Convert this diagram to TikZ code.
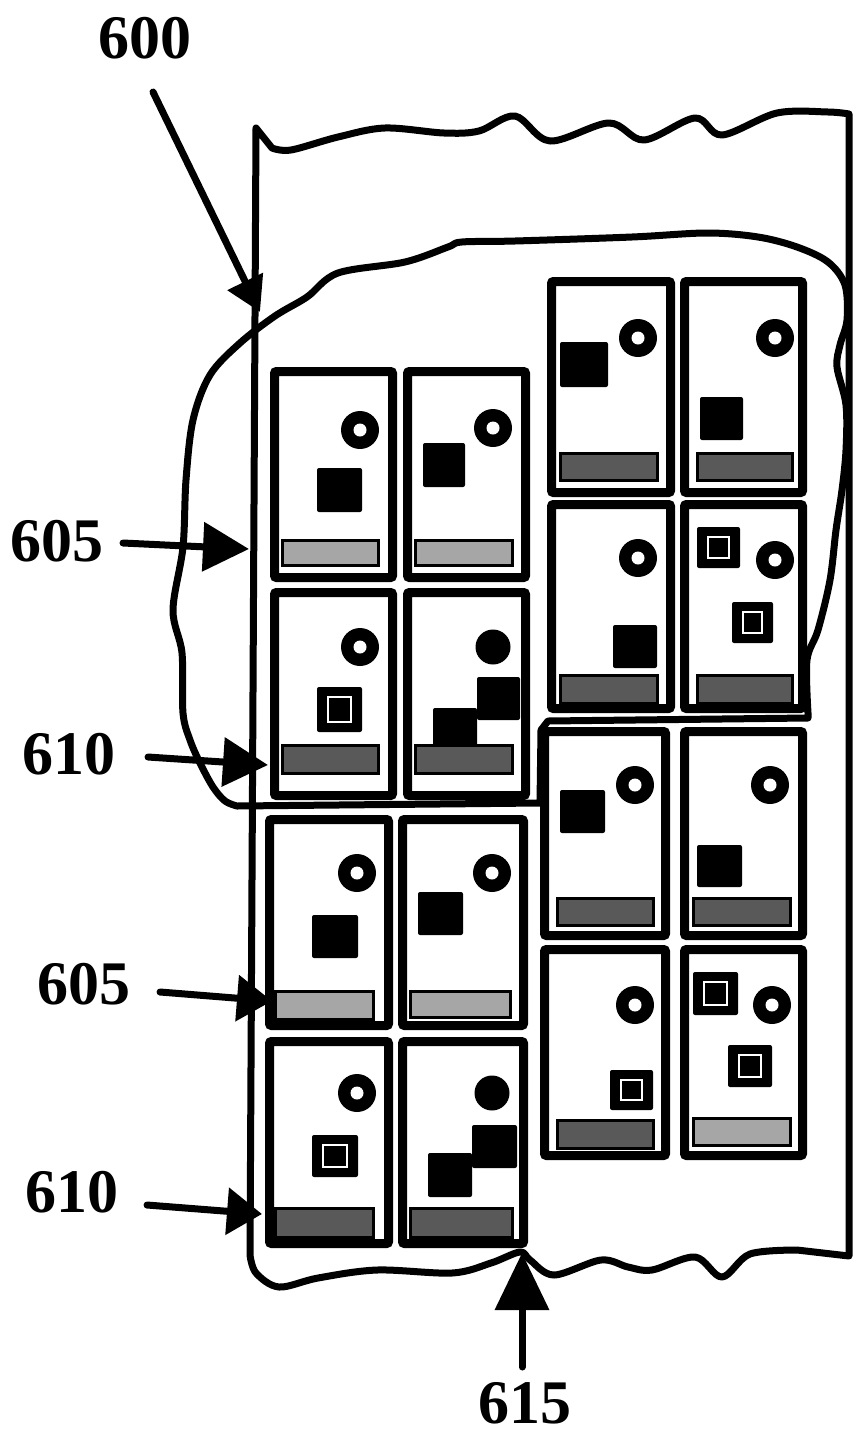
\documentclass[tikz,border=0pt]{standalone}
\usepackage{fontspec}
\setmainfont{Liberation Serif}
\usetikzlibrary{arrows.meta}
\newcommand\mkcard[5]{%
  \pgfmathsetmacro\cardWd{#4-#2-9}\pgfmathsetmacro\cardHt{#5-#3-9}%
  \node[cardnode, minimum width=\cardWd pt, minimum height=\cardHt pt] (#1) at ({(#2+#4)/2},{(#3+#5)/2}) {};}
\newcommand\ringat[2]{\fill (#1,#2) circle[radius=19]; \fill[white] (#1,#2) circle[radius=6.5];}
\newcommand\dotat[2]{\fill (#1,#2) circle[radius=17.5];}
\newcommand\sqfill[4]{\fill[rounded corners=2pt] (#1,#2) rectangle (#3,#4);}
\newcommand\sqopen[4]{\fill[rounded corners=2pt] (#1,#2) rectangle (#3,#4);
  \draw[white, line width=2.5pt] ({#1+11},{#2+10}) rectangle ({#3-11},{#4-10});}
\begin{document}
\begin{tikzpicture}[x=1pt,y=-1pt,
  panel/.style={line width=7pt, line join=round, line cap=round},
  blob/.style={line width=7pt, line join=round, line cap=round},
  cardnode/.style={draw, line width=9pt, rounded corners=2pt, inner sep=0pt, outer sep=0pt, fill=white},
  bardark/.style={draw, line width=3pt, fill=black!65},
  barlight/.style={draw, line width=3pt, fill=black!35},
  lbl/.style={font=\bfseries\fontsize{62}{62}\selectfont, inner sep=0pt},
  arr/.style={line width=7pt, line cap=round}]
\fill[white] (0,0) rectangle (855,1435);
\useasboundingbox (0,0) rectangle (855,1435);

% outer panel 600
\draw[panel] (250,1255) -- (256,128) -- (272,148)
  -- plot[smooth, tension=0.55] coordinates {(272,148) (291,150) (338,137) (385,128) (444,133) (479,131) (515,116) (550,141) (609,123) (644,140) (695,118) (722,135) (777,113) (828,112) (849,114)}
  -- (849,1256) -- (797,1250)
  -- plot[smooth, tension=0.55] coordinates {(797,1250) (750,1254) (722,1277) (695,1257) (652,1270) (628,1267) (601,1260) (554,1275) (530,1260) (520,1252) (491,1263) (452,1273) (377,1270) (318,1278) (279,1287) (256,1273) (250,1255)};

% selection outline
\draw[blob] (808,713) -- (808,718) -- (548,721) -- (541,730) -- (540,803) -- (237,806)
  -- plot[smooth, tension=0.55] coordinates {(237,806) (225,801) (213,787) (200,763) (190,740) (183,713) (182,653) (173,610) (183,547) (186,480) (193,420) (210,375) (240,343) (275,316) (307,297) (338,273) (405,262) (448,247) (462,242) (515,241) (632,237) (707,233) (758,237) (797,247) (828,262) (845,285) (847,320) (840,345) (837,367) (846,405) (846,450) (842,490) (836,530) (830,580) (818,630) (807,660) (808,713)} -- cycle;

% cards
\mkcard{A}{270}{367}{397}{582}
\mkcard{B}{403}{367}{530}{582}
\mkcard{C}{270}{588}{397}{800}
\mkcard{D}{403}{588}{530}{800}
\mkcard{E}{265}{815}{393}{1030}
\mkcard{F}{398}{815}{528}{1030}
\mkcard{G}{265}{1037}{393}{1248}
\mkcard{H}{398}{1037}{528}{1248}
\mkcard{I}{547}{277}{675}{497}
\mkcard{J}{680}{277}{807}{497}
\mkcard{K}{547}{500}{675}{713}
\mkcard{L}{680}{500}{807}{713}
\mkcard{M}{540}{727}{670}{940}
\mkcard{N}{680}{727}{807}{940}
\mkcard{O}{540}{945}{670}{1160}
\mkcard{P}{680}{945}{807}{1160}

% card A
\ringat{360}{430} \sqfill{317}{468}{362}{512}
\draw[barlight] (282,540) rectangle (378,565);
% card B
\ringat{493}{428} \sqfill{423}{443}{465}{487}
\draw[barlight] (415,540) rectangle (512,565);
% card C
\ringat{360}{647} \sqopen{317}{687}{362}{732}
\draw[bardark] (282,745) rectangle (378,773);
% card D
\dotat{493}{647} \sqfill{477}{677}{520}{720} \sqfill{433}{708}{477}{750}
\draw[bardark] (415,745) rectangle (512,773);
% card E
\ringat{357}{873} \sqfill{312}{915}{358}{958}
\draw[barlight] (275,991) rectangle (373,1019);
% card F
\ringat{492}{873} \sqfill{418}{892}{463}{935}
\draw[barlight] (410,991) rectangle (510,1017);
% card G
\ringat{357}{1093} \sqopen{312}{1135}{358}{1177}
\draw[bardark] (275,1208) rectangle (373,1237);
% card H
\dotat{492}{1093} \sqfill{472}{1125}{517}{1168} \sqfill{428}{1153}{472}{1197}
\draw[bardark] (410,1208) rectangle (512,1237);
% card I
\ringat{638}{338} \sqfill{560}{342}{608}{387}
\draw[bardark] (560,453) rectangle (657,480);
% card J
\ringat{775}{338} \sqfill{700}{397}{743}{440}
\draw[bardark] (697,453) rectangle (792,480);
% card K
\ringat{638}{558} \sqfill{613}{625}{657}{668}
\draw[bardark] (560,675) rectangle (657,703);
% card L
\sqopen{697}{527}{740}{568} \ringat{775}{560} \sqopen{732}{602}{773}{643}
\draw[bardark] (697,675) rectangle (792,703);
% card M
\ringat{635}{785} \sqfill{560}{790}{605}{833}
\draw[bardark] (557,898) rectangle (653,925);
% card N
\ringat{770}{785} \sqfill{697}{845}{742}{887}
\draw[bardark] (693,898) rectangle (790,925);
% card O
\ringat{635}{1005} \sqopen{610}{1070}{653}{1110}
\draw[bardark] (557,1120) rectangle (653,1148);
% card P
\sqopen{693}{972}{738}{1015} \ringat{772}{1005} \sqopen{728}{1045}{772}{1087}
\draw[barlight] (693,1118) rectangle (790,1145);

% labels
\node[lbl] (l600) at (145,38) {600};
\node[lbl] (l605a) at (57,541) {605};
\node[lbl] (l610a) at (69,754) {610};
\node[lbl] (l605b) at (84,984) {605};
\node[lbl] (l610b) at (72,1192) {610};
\node[lbl] (l615) at (525,1403) {615};

% arrow ends
\coordinate (s600) at (153,92);   \coordinate (t600) at (260,312);
\coordinate (s605a) at (123,543); \coordinate (t605a) at (249,549);
\coordinate (s610a) at (148,757); \coordinate (t610a) at (268,765);
\coordinate (s605b) at (160,992); \coordinate (t605b) at (272,1001);
\coordinate (s610b) at (147,1205);\coordinate (t610b) at (262,1214);
\coordinate (s615) at (522,1367); \coordinate (t615) at (522,1253);

\draw[arr, -{Triangle[length=34pt 0 0, width=38pt 0 0]}] (s600) -- (t600);
\draw[arr, -{Triangle[length=46pt 0 0, width=48pt 0 0]}] (s605a) -- (t605a);
\draw[arr, -{Triangle[length=45pt 0 0, width=48pt 0 0]}] (s610a) -- (t610a);
\draw[arr, -{Triangle[length=35pt 0 0, width=45pt 0 0]}] (s605b) -- (t605b);
\draw[arr, -{Triangle[length=35pt 0 0, width=46pt 0 0]}] (s610b) -- (t610b);
\draw[arr, -{Triangle[length=57pt 0 0, width=53pt 0 0]}] (s615) -- (t615);
\end{tikzpicture}
\end{document}
